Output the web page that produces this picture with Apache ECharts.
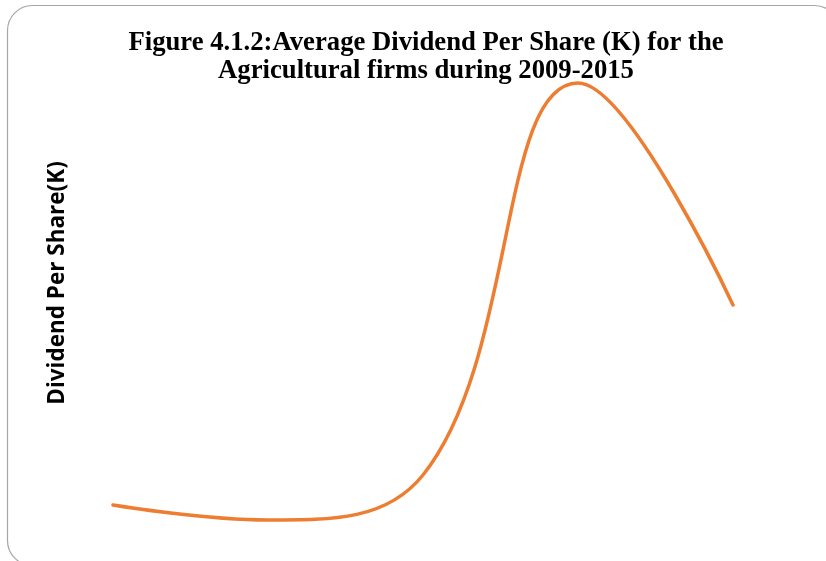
<!DOCTYPE html>
<html>
<head>
<meta charset="utf-8">
<script src="https://cdn.jsdelivr.net/npm/echarts@6/dist/echarts.min.js"></script>
<style>
  html, body { margin: 0; padding: 0; background: #fff; }
  #main { width: 826px; height: 561px; }
</style>
</head>
<body>
<div id="main"></div>
<script>
// data (axis is hidden in the original)
var years = ['2011', '2012', '2013', '2014', '2015'];
var dividend = [0.09, 0.015, 0.24, 2.2, 1.09];

var myChart = echarts.init(document.getElementById('main'));

var option = {
  backgroundColor: '#fff',
  animation: false,
  title: {
    text: 'Figure 4.1.2:Average Dividend Per Share (K) for the\nAgricultural firms during 2009-2015',
    left: 421,
    top: 24,
    textAlign: 'center',
    textStyle: {
      fontFamily: 'Liberation Serif',
      fontWeight: 'bold',
      fontSize: 26.7,
      lineHeight: 28,
      color: '#000'
    }
  },
  graphic: [
    {
      type: 'rect',
      shape: { x: 7.5, y: 5.5, width: 832, height: 560, r: 25 },
      style: { fill: null, stroke: '#a6a6a6', lineWidth: 1.2 },
      silent: true
    }
  ],
  grid: {
    left: 113,
    right: 93,
    top: 43,
    bottom: 38
  },
  xAxis: {
    type: 'category',
    data: years,
    boundaryGap: false,
    show: false
  },
  yAxis: {
    type: 'value',
    min: 0,
    max: 2.4,
    name: 'Dividend Per Share(K)',
    nameLocation: 'middle',
    nameRotate: 90,
    nameGap: 44,
    nameTextStyle: {
      fontFamily: 'Open Sans',
      fontWeight: 'bold',
      fontSize: 22.5,
      color: '#000'
    },
    axisLine: { show: false },
    axisTick: { show: false },
    axisLabel: { show: false },
    splitLine: { show: false }
  },
  series: [
    {
      name: 'Dividend Per Share',
      type: 'line',
      data: dividend,
      smooth: 0.42,
      showSymbol: false,
      lineStyle: { color: '#ed7d31', width: 3.5, cap: 'round' },
      itemStyle: { color: '#ed7d31' }
    }
  ]
};

myChart.setOption(option);
</script>
</body>
</html>
